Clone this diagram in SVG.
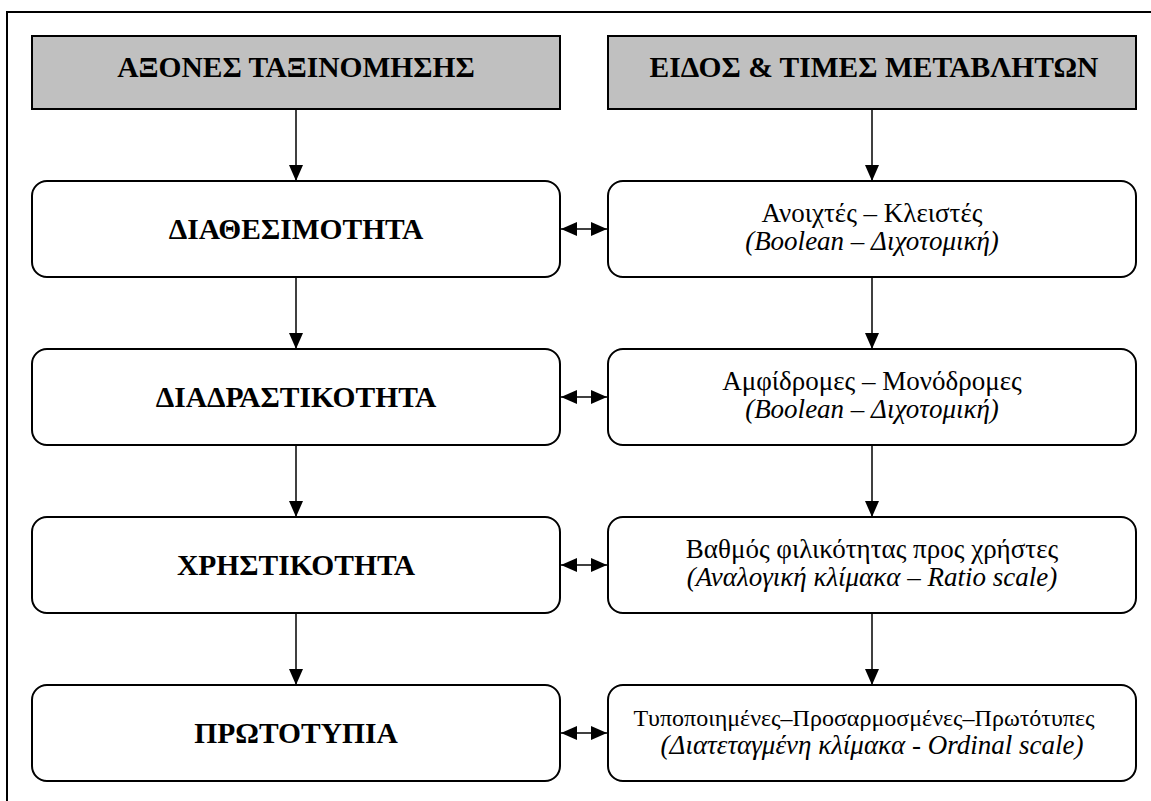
<svg xmlns="http://www.w3.org/2000/svg" width="1151" height="801" viewBox="0 0 1151 801">
<style>
.frame{fill:none;stroke:#000;stroke-width:2}
.hdr{fill:#c0c0c0;stroke:#000;stroke-width:2}
.node{fill:#fff;stroke:#000;stroke-width:2}
.conn line{stroke:#000;stroke-width:1.5}
.t{font-family:'Liberation Serif','DejaVu Serif',serif;fill:#000;text-anchor:middle}
.b{font-weight:bold;font-size:29.5px}
.r{font-size:27px}
.i{font-size:27px;font-style:italic}
.s{font-size:24px}
</style>
<defs>
<marker id="ah" viewBox="0 0 16 14" refX="16" refY="7" markerWidth="16" markerHeight="14" markerUnits="userSpaceOnUse" orient="auto-start-reverse">
<path d="M0,0 L16,7 L0,14 z" fill="#000"/>
</marker>
</defs>
<rect class="frame" x="7" y="12" width="1170" height="820"/>
<g class="t" font-family="Liberation Serif, DejaVu Serif, serif">
<g id="hdr-left"><rect class="hdr" x="32" y="36" width="528" height="73"/><text class="b" x="296" y="77">ΑΞΟΝΕΣ ΤΑΞΙΝΟΜΗΣΗΣ</text></g>
<g id="hdr-right"><rect class="hdr" x="608" y="36" width="528" height="73"/><text class="b" x="874" y="77">ΕΙΔΟΣ &amp; ΤΙΜΕΣ ΜΕΤΑΒΛΗΤΩΝ</text></g>
<g id="n-l1"><rect class="node" x="32" y="181" width="528" height="96" rx="15"/><text class="b" x="296" y="239">ΔΙΑΘΕΣΙΜΟΤΗΤΑ</text></g>
<g id="n-l2"><rect class="node" x="32" y="349" width="528" height="96" rx="15"/><text class="b" x="296" y="407">ΔΙΑΔΡΑΣΤΙΚΟΤΗΤΑ</text></g>
<g id="n-l3"><rect class="node" x="32" y="517" width="528" height="96" rx="15"/><text class="b" x="296" y="575">ΧΡΗΣΤΙΚΟΤΗΤΑ</text></g>
<g id="n-l4"><rect class="node" x="32" y="685" width="528" height="96" rx="15"/><text class="b" x="296" y="743">ΠΡΩΤΟΤΥΠΙΑ</text></g>
<g id="n-r1"><rect class="node" x="608" y="181" width="528" height="96" rx="15"/><text class="r" x="872" y="222">Ανοιχτές – Κλειστές</text><text class="i" x="872" y="250">(Boolean – Διχοτομική)</text></g>
<g id="n-r2"><rect class="node" x="608" y="349" width="528" height="96" rx="15"/><text class="r" x="872" y="390">Αμφίδρομες – Μονόδρομες</text><text class="i" x="872" y="418">(Boolean – Διχοτομική)</text></g>
<g id="n-r3"><rect class="node" x="608" y="517" width="528" height="96" rx="15"/><text class="r" x="872" y="558">Βαθμός φιλικότητας προς χρήστες</text><text class="i" x="872" y="586">(Αναλογική κλίμακα – Ratio scale)</text></g>
<g id="n-r4"><rect class="node" x="608" y="685" width="528" height="96" rx="15"/><text class="s" x="864" y="726">Τυποποιημένες–Προσαρμοσμένες–Πρωτότυπες</text><text class="i" x="872" y="754">(Διατεταγμένη κλίμακα - Ordinal scale)</text></g>
</g>
<g class="conn" id="connectors">
<line x1="296" y1="109" x2="296" y2="181" marker-end="url(#ah)"/>
<line x1="872" y1="109" x2="872" y2="181" marker-end="url(#ah)"/>
<line x1="296" y1="277" x2="296" y2="349" marker-end="url(#ah)"/>
<line x1="872" y1="277" x2="872" y2="349" marker-end="url(#ah)"/>
<line x1="296" y1="445" x2="296" y2="517" marker-end="url(#ah)"/>
<line x1="872" y1="445" x2="872" y2="517" marker-end="url(#ah)"/>
<line x1="296" y1="613" x2="296" y2="685" marker-end="url(#ah)"/>
<line x1="872" y1="613" x2="872" y2="685" marker-end="url(#ah)"/>
<line x1="561" y1="229" x2="607" y2="229" marker-start="url(#ah)" marker-end="url(#ah)"/>
<line x1="561" y1="397" x2="607" y2="397" marker-start="url(#ah)" marker-end="url(#ah)"/>
<line x1="561" y1="565" x2="607" y2="565" marker-start="url(#ah)" marker-end="url(#ah)"/>
<line x1="561" y1="733" x2="607" y2="733" marker-start="url(#ah)" marker-end="url(#ah)"/>
</g>
</svg>
